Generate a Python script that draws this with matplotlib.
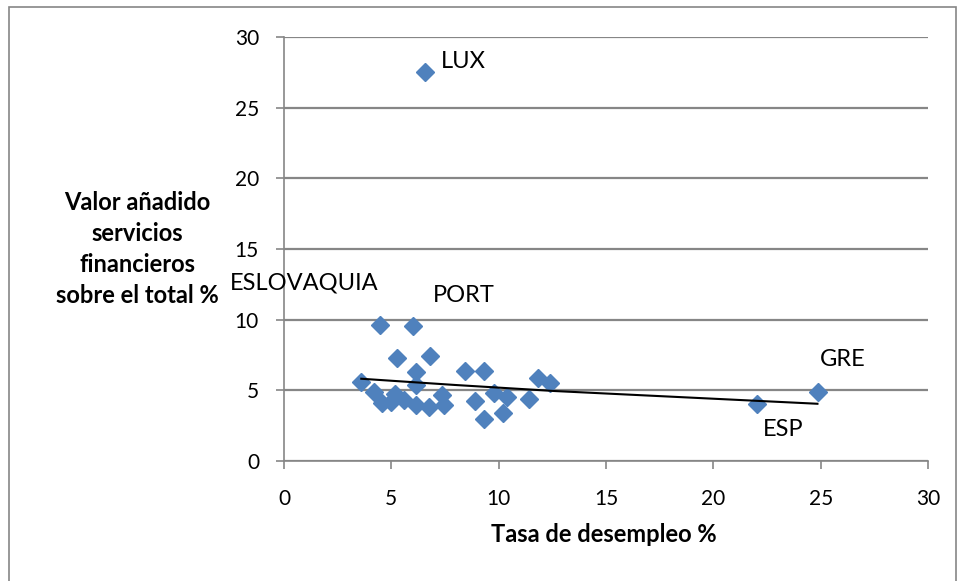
"""Scatter: desempleo vs valor añadido servicios financieros."""

import matplotlib

matplotlib.use("Agg")
import matplotlib.pyplot as plt
from matplotlib.patches import Rectangle

# datos
desempleo = [6.57, 4.47, 6.0, 5.25, 6.8, 6.13, 6.13, 3.59, 4.2, 4.55, 5.15,
             5.0, 5.6, 6.13, 6.77, 7.38, 7.46, 8.43, 9.31, 8.9, 9.31, 9.78,
             10.37, 10.18, 11.43, 11.85, 12.4, 22.03, 24.87]
valor_fin = [27.5, 9.6, 9.55, 7.3, 7.45, 6.3, 5.4, 5.6, 4.9, 4.1, 4.75,
             4.2, 4.3, 3.96, 3.8, 4.7, 3.96, 6.35, 6.35, 4.25, 2.95, 4.8,
             4.55, 3.42, 4.4, 5.85, 5.5, 4.0, 4.9]

# línea de tendencia (leída)
tend_x = [3.6, 7.96, 12.62, 24.85]
tend_y = [5.82, 5.38, 4.95, 4.05]

etiquetas = ["LUX", "ESLOVAQUIA", "PORT", "GRE", "ESP"]
etiq_x = [7.3, -2.5, 6.95, 24.97, 22.3]
etiq_y = [28.3, 12.6, 11.7, 7.15, 2.2]

plt.rcParams["font.family"] = ["Lato", "DejaVu Sans"]

fig = plt.figure(figsize=(9.59, 5.81), dpi=100)
ax = fig.add_axes([284 / 959, 1 - 461 / 581, 644 / 959, 424 / 581])

ax.plot(desempleo, valor_fin, linestyle="none", marker="D", markersize=9.5,
        color="#4F81BD", zorder=3)
ax.plot(tend_x, tend_y, color="black", linewidth=1.5, zorder=4)

for t, x, y in zip(etiquetas, etiq_x, etiq_y):
    ax.text(x, y, t, fontsize=17, ha="left", va="center", clip_on=False)

ax.set_xlim(0, 30)
ax.set_ylim(0, 30)
ax.set_xticks(range(0, 31, 5))
ax.set_yticks(range(0, 31, 5))
ax.yaxis.grid(True, color="#868686", linewidth=1.6)
ax.set_axisbelow(True)
for s in ("top", "right"):
    ax.spines[s].set_visible(False)
for s in ("left", "bottom"):
    ax.spines[s].set_color("#868686")
    ax.spines[s].set_linewidth(1.2)
ax.tick_params(axis="both", direction="out", length=6, color="#868686",
               labelsize=15, width=1.2)
ax.tick_params(axis="x", pad=14)
ax.tick_params(axis="y", pad=12)

fig.text(137 / 959, 1 - 249 / 581,
         "Valor añadido\nservicios\nfinancieros\nsobre el total %",
         ha="center", va="center", fontsize=17, fontweight="bold",
         linespacing=1.42)
fig.text(604 / 959, 1 - 535 / 581, "Tasa de desempleo %", ha="center",
         va="center", fontsize=17, fontweight="bold")

fig.patches.append(Rectangle((9 / 959, -0.05), 947 / 959, 1.05 - 7 / 581,
                             transform=fig.transFigure, fill=False,
                             edgecolor="#868686", linewidth=1.2))

fig.savefig("out.png", dpi=100)
